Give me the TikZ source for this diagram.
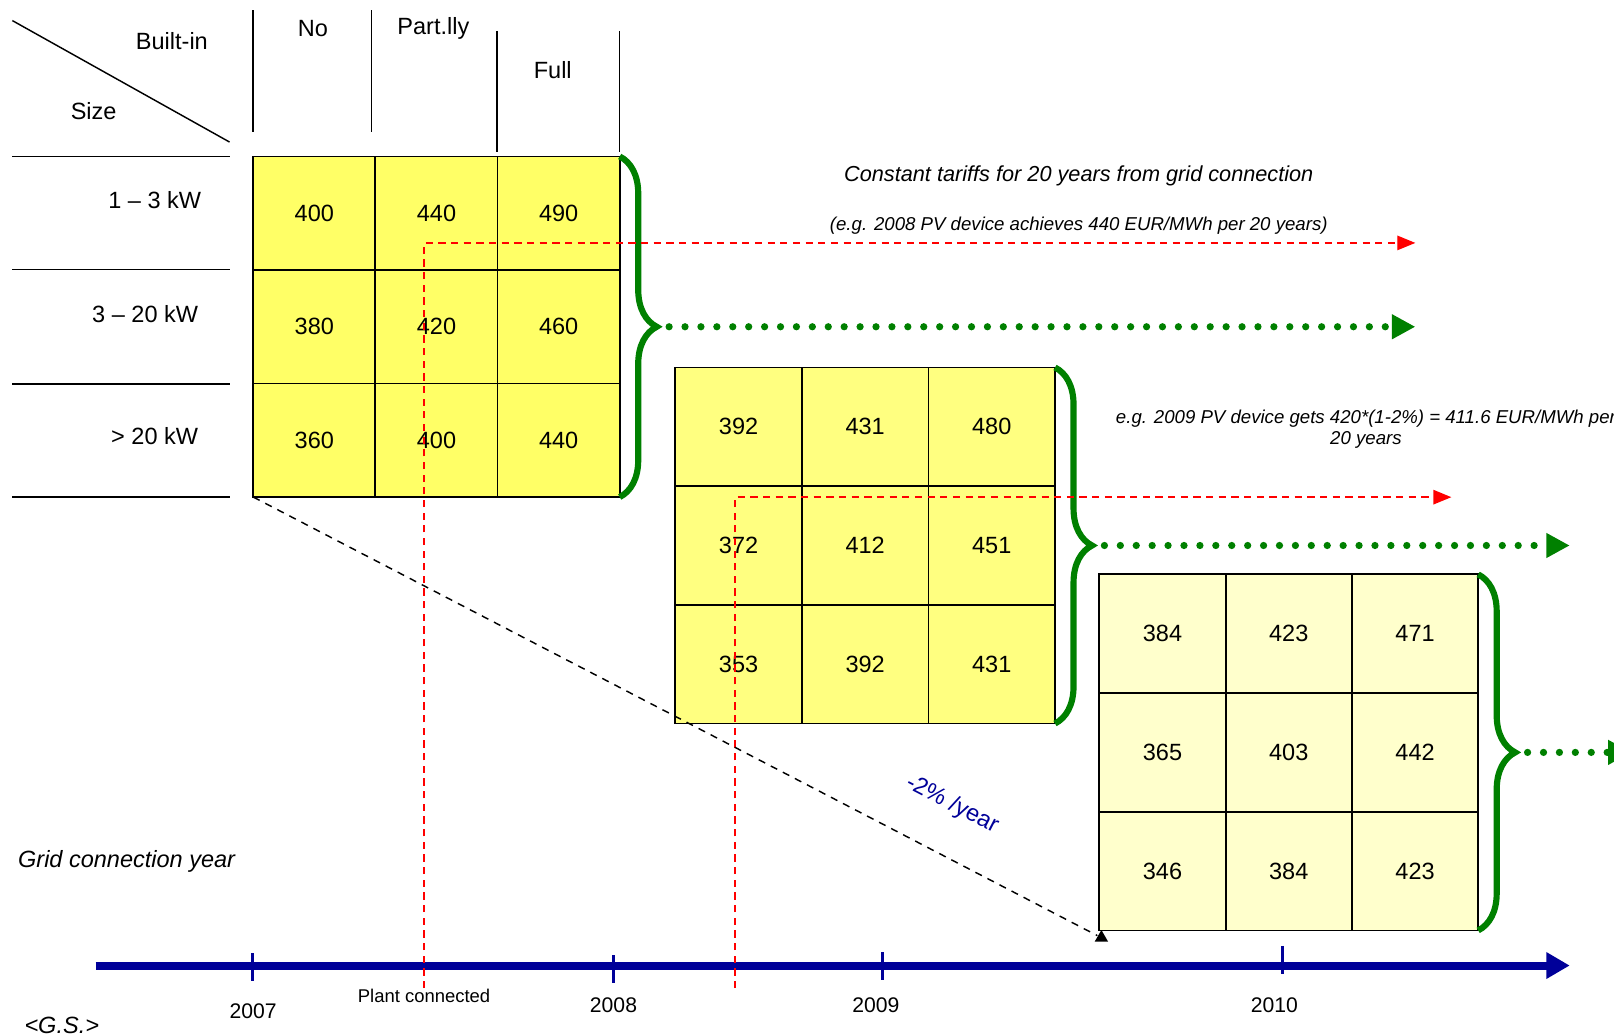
\documentclass[tikz,border=0pt]{standalone}
\usepackage{fontspec}
\setmainfont{Liberation Sans}
\usetikzlibrary{arrows.meta, positioning, calc, decorations.pathreplacing, shapes.geometric}

\definecolor{yellowA}{RGB}{255,255,102}
\definecolor{yellowB}{RGB}{255,255,128}
\definecolor{yellowC}{RGB}{255,255,204}
\definecolor{bracegreen}{RGB}{0,128,0}
\definecolor{axisblue}{RGB}{0,0,153}

\begin{document}
\begin{tikzpicture}[
            x = 0.02cm, y = -0.02cm, % one unit = one pixel, y going down
            > = {Triangle[length=10pt, width=8pt]}, % arrow head style
            font = \fontsize{13}{15}\selectfont,
            line width = 0.8pt
        ]

        \tikzstyle{cell}=[
            draw = black,
            line width = 1pt,
            inner sep = 0pt,
            outer sep = 0pt
        ]
        \tikzstyle{cellA}=[cell, fill = yellowA, minimum width = 2.374cm, minimum height = 2.206cm]
        \tikzstyle{cellB}=[cell, fill = yellowB, minimum width = 2.46cm, minimum height = 2.306cm]
        \tikzstyle{cellC}=[cell, fill = yellowC, minimum width = 2.454cm, minimum height = 2.306cm]
        \tikzstyle{greenbrace}=[decorate, decoration = {brace, amplitude = 0.72cm}, draw = bracegreen, line width = 3.4pt]
        \tikzstyle{greendots}=[draw = bracegreen, line width = 4pt, line cap = round, dash pattern = on 0pt off 8.8pt,
            -{Triangle[length=13pt, width=13pt]}, shorten <= 0.22cm]
        \tikzstyle{reddash}=[draw = red, line width = 0.8pt, dash pattern = on 4pt off 3pt, -{Triangle[length=10pt, width=8pt]}]
        \tikzstyle{small}=[font = \fontsize{10.3}{12}\selectfont\itshape]

        \useasboundingbox (0,0) rectangle (1568,1006);

        % header of the first table
        \draw (12,20) -- (223,138);
        \node (builtin) at (167,40) {Built-in};
        \node (size) at (91,108) {Size};
        \draw (246,10) -- (246,128);
        \draw (361,10) -- (361,128);
        \draw (483,30) -- (483,148);
        \draw (602,30) -- (602,148);
        \node (no) at (304,28) {No};
        \node (partly) at (421,28) {Part.lly};
        \node (full) at (537,68) {Full};
        \foreach \y in {152, 262, 373, 483}
            \draw (12,\y) -- (223,\y);
        \node[anchor = east] (s1) at (202,194) {1 -- 3 kW};
        \node[anchor = east] (s2) at (199,305) {3 -- 20 kW};
        \node[anchor = east] (s3) at (199,424) {> 20 kW};

        % tariff tables
        \foreach \r/\p/\q/\s in {1/400/440/490, 2/380/420/460, 3/360/400/440} {
            \node[cellA] (a\r1) at (305.35, {152+(\r-0.5)*110.3}) {\p};
            \node[cellA, right = 0pt of a\r1] (a\r2) {\q};
            \node[cellA, right = 0pt of a\r2] (a\r3) {\s};
        }
        \foreach \r/\p/\q/\s in {1/392/431/480, 2/372/412/451, 3/353/392/431} {
            \node[cellB] (b\r1) at (717.5, {357+(\r-0.5)*115.3}) {\p};
            \node[cellB, right = 0pt of b\r1] (b\r2) {\q};
            \node[cellB, right = 0pt of b\r2] (b\r3) {\s};
        }
        \foreach \r/\p/\q/\s in {1/384/423/471, 2/365/403/442, 3/346/384/423} {
            \node[cellC] (c\r1) at (1129.35, {558+(\r-0.5)*115.3}) {\p};
            \node[cellC, right = 0pt of c\r1] (c\r2) {\q};
            \node[cellC, right = 0pt of c\r2] (c\r3) {\s};
        }

        % braces
        \draw[greenbrace] (a13.north east) -- (a33.south east);
        \draw[greenbrace] (b13.north east) -- (b33.south east);
        \draw[greenbrace] (c13.north east) -- (c33.south east);
        \coordinate (tipa) at ($(a13.north east)!0.5!(a33.south east) + (37,0)$);
        \coordinate (tipb) at ($(b13.north east)!0.5!(b33.south east) + (37,0)$);
        \coordinate (tipc) at ($(c13.north east)!0.5!(c33.south east) + (37,0)$);

        % time axis
        \coordinate (ax0) at (93,938);
        \coordinate (ax1) at (1525,938);
        \draw[axisblue, line width = 4.4pt, -{Triangle[length=13pt, width=14pt]}] (ax0) -- (ax1);
        \foreach \x/\t in {245/926, 596/928, 857/925, 1246/919}
            \draw[axisblue, line width = 1.8pt] (\x,\t) -- ++(0,27);
        \node[font = \fontsize{11.7}{14}\selectfont] (y2007) at (246,982) {2007};
        \node[font = \fontsize{11.7}{14}\selectfont] (y2008) at (596,977) {2008};
        \node[font = \fontsize{11.7}{14}\selectfont] (y2009) at (851,977) {2009};
        \node[font = \fontsize{11.7}{14}\selectfont] (y2010) at (1238,977) {2010};
        \node[font = \fontsize{10.2}{12}\selectfont] (plant) at (412,968) {Plant connected};
        \node[font = \fontsize{13}{15}\selectfont\itshape] (grid) at (123,837) {Grid connection year};
        \node[font = \fontsize{13}{15}\selectfont\itshape] (gs) at (60,996) {<G.S.>};

        % constant tariff over 20 years
        \coordinate (pa) at (412,960);
        \coordinate (pb) at (714,960);
        \coordinate (ra) at (1375,236);
        \coordinate (rb) at (1410,483);
        \coordinate (ga) at (1375,320);
        \coordinate (gb) at (1525,527);
        \coordinate (gc) at (1585,731);
        \draw[reddash] (pa) |- (ra);
        \draw[reddash] (pb) |- (rb);
        \draw[greendots] (tipa) -- (tipa -| ga);
        \draw[greendots] (tipb) -- (tipb -| gb);
        \draw[greendots] (tipc) -- (tipc -| gc);

        \node[font = \fontsize{12}{14}\selectfont\itshape] (const) at (1048,171)
            {Constant tariffs for 20 years from grid connection};
        \node[small] (eg08) at (1048,219)
            {(e.g. 2008 PV device achieves 440 EUR/MWh per 20 years)};
        \node[small, align = center] (eg09) at (1327,417)
            {e.g. 2009 PV device gets 420*(1-2\%) = 411.6 EUR/MWh per\\20 years};

        % yearly decrease
        \node[fill, regular polygon, regular polygon sides = 3, inner sep = 0pt, minimum size = 0.3cm] (mark) at (1070,911) {};
        \draw[dash pattern = on 4pt off 3.5pt] (a31.south west) -- (mark);
        \node[text = axisblue, rotate = -27.3] (rate) at (925,782) {-2\% /year};
  \end{tikzpicture}
\end{document}
